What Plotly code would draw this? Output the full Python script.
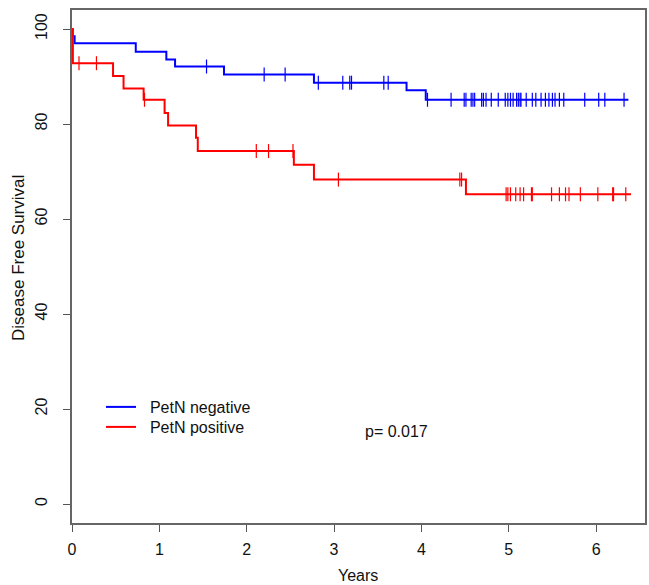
import plotly.graph_objects as go

# ---- data ----
neg_times = [0, 0.005, 0.03, 0.73, 1.08, 1.18, 1.74, 2.77, 3.83, 4.05, 6.37]
neg_surv = [100, 98.5, 97.0, 95.2, 93.6, 92.1, 90.4, 88.7, 87.1, 85.1, 85.1]
neg_censor = [1.54, 2.20, 2.44, 2.82, 3.10, 3.18, 3.20, 3.57, 3.62, 4.07, 4.34,
              4.49, 4.51, 4.57, 4.59, 4.61, 4.69, 4.71, 4.74, 4.80, 4.88, 4.96,
              4.99, 5.02, 5.05, 5.09, 5.11, 5.13, 5.14, 5.20, 5.27, 5.31, 5.37,
              5.42, 5.46, 5.50, 5.53, 5.58, 5.63, 5.87, 6.03, 6.10, 6.32]

pos_times = [0, 0.01, 0.47, 0.59, 0.82, 1.06, 1.10, 1.42, 1.44, 2.54, 2.77, 4.51, 6.40]
pos_surv = [100, 92.8, 90.1, 87.5, 85.1, 82.3, 79.7, 77.1, 74.3, 71.4, 68.3, 65.2, 65.2]
pos_censor = [0.08, 0.28, 0.83, 2.11, 2.25, 2.53, 3.05, 4.44, 4.46, 4.97, 4.99,
              5.02, 5.08, 5.13, 5.17, 5.26, 5.27, 5.49, 5.58, 5.65, 5.69, 5.82,
              6.02, 6.19, 6.20, 6.34]

x_ticks = [0, 1, 2, 3, 4, 5, 6]
y_ticks = [0, 20, 40, 60, 80, 100]
group_names = ["PetN negative", "PetN positive"]
p_text = "p= 0.017"
x_title = "Years"
y_title = "Disease Free Survival"
title_text = "PetN"


def surv_at(times, surv, t):
    val = surv[0]
    for ti, si in zip(times, surv):
        if ti <= t:
            val = si
    return val


FONT = "Liberation Sans, Arial, Helvetica, sans-serif"
L, R, T, B = 72, 4, 10, 62
W, H = 649, 585
PW, PH = W - L - R, H - T - B
NBSP = "\u00a0\u00a0"

fig = go.Figure()

for name, times, surv, cens, col, lg in [
    (group_names[0], neg_times, neg_surv, neg_censor, "#0000FF", "legend"),
    (group_names[1], pos_times, pos_surv, pos_censor, "#FF0000", "legend2"),
]:
    fig.add_trace(go.Scatter(
        x=times, y=surv, mode="lines", line=dict(color=col, width=2, shape="hv"),
        name=NBSP + name, showlegend=True, legend=lg))
    fig.add_trace(go.Scatter(
        x=cens, y=[surv_at(times, surv, t) for t in cens], mode="markers",
        marker=dict(symbol="line-ns-open", size=10, color=col,
                    line=dict(color=col, width=1.2)),
        showlegend=False, hoverinfo="skip"))

fig.add_annotation(x=3.72, y=15.3, xref="x", yref="y", text=p_text, showarrow=False,
                   font=dict(family=FONT, size=16, color="#111"))
# axis titles
fig.add_annotation(x=(18 - L) / PW, y=(H - B - 258) / PH, xref="paper", yref="paper",
                   text=y_title, textangle=-90, showarrow=False,
                   xanchor="center", yanchor="middle",
                   font=dict(family=FONT, size=17, color="#111"))
fig.add_annotation(x=(358 - L) / PW, y=(H - B - 575) / PH, xref="paper", yref="paper",
                   text=x_title, showarrow=False, xanchor="center", yanchor="middle",
                   font=dict(family=FONT, size=16, color="#111"))
# clipped title fragment at the top (cut off in the reference too)
fig.add_annotation(x=(356 - L) / PW, y=1.0 + 6 / PH, xref="paper", yref="paper",
                   yanchor="bottom", text="<b>" + title_text + "</b>", showarrow=False,
                   font=dict(family=FONT, size=17, color="#888"))

leg_common = dict(xanchor="left", yanchor="middle", bgcolor="rgba(0,0,0,0)",
                  font=dict(size=16, family=FONT), itemwidth=30, borderwidth=0)
fig.update_layout(
    width=W, height=H,
    margin=dict(l=L, r=R, t=T, b=B),
    paper_bgcolor="white", plot_bgcolor="white",
    font=dict(family=FONT, size=16, color="#111"),
    legend=dict(x=(101 - L) / PW, y=(H - B - 407) / PH, **leg_common),
    legend2=dict(x=(101 - L) / PW, y=(H - B - 427) / PH, **leg_common),
)
fig.update_xaxes(range=[0, 6.56], tickvals=x_ticks, ticks="outside", ticklen=7,
                 tickcolor="#555", linecolor="#666", linewidth=1.5, mirror=True,
                 showgrid=False, zeroline=False, tickfont=dict(size=16),
                 automargin=False, ticklabelstandoff=4)
fig.update_yaxes(range=[-4, 104], tickvals=y_ticks, ticks="outside", ticklen=7,
                 tickcolor="#555", linecolor="#666", linewidth=1.5, mirror=True,
                 showgrid=False, zeroline=False, tickangle=-90, tickfont=dict(size=16),
                 automargin=False, ticklabelstandoff=10)

fig.write_html("out.html", config={"displayModeBar": False},
               post_script="document.body.style.margin='0px';"
                           "document.documentElement.style.overflow='hidden';")
